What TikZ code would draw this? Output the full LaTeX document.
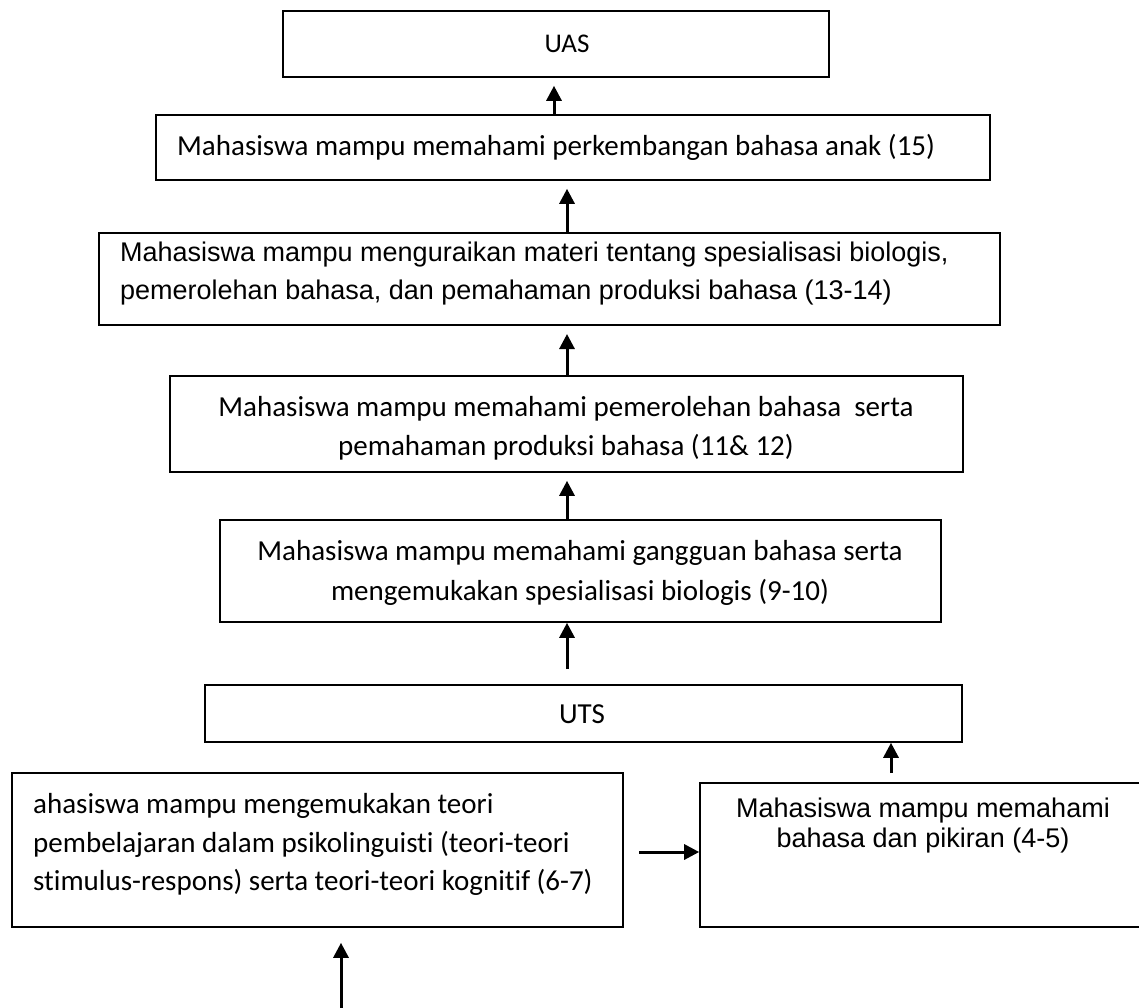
\documentclass[tikz,border=0pt]{standalone}
\usepackage{fontspec}
\setmainfont{Carlito}[Ligatures=NoCommon]
\newfontfamily\arialfont{Liberation Sans}[Ligatures=NoCommon]
\usetikzlibrary{arrows.meta}
\begin{document}
\begin{tikzpicture}[x=1pt,y=-1pt,
  box/.style={draw, line width=1.6pt, inner sep=0pt, rectangle},
  cal/.style={inner sep=0pt, font=\fontsize{29}{35}\selectfont},
  ari/.style={inner sep=0pt, font=\arialfont\fontsize{27}{31}\selectfont},
  arr/.style={line width=3pt, -{Triangle[length=15pt,width=15pt]}}
]
\useasboundingbox (0,0) rectangle (1139,1007);
\fill[white] (0,0) rectangle (1139,1007);

% boxes
\node[box, minimum width=546pt, minimum height=66pt] (uas) at (556,44) {};
\node[box, minimum width=834pt, minimum height=65pt] (b2) at (573,147.5) {};
\node[box, line width=2pt, minimum width=901pt, minimum height=92pt] (b3) at (549.5,279) {};
\node[box, minimum width=793pt, minimum height=96pt] (b4) at (566.5,424) {};
\node[box, minimum width=721pt, minimum height=102pt] (b5) at (580.5,571) {};
\node[box, minimum width=757pt, minimum height=57pt] (uts) at (583.5,713.5) {};
\node[box, minimum width=611pt, minimum height=154pt] (lb) at (317.5,850) {};
\node[box, minimum width=446pt, minimum height=144pt] (rb) at (923,855) {};

% texts
\node[cal, font=\fontsize{27}{32}\selectfont, anchor=base] (tuas) at (567,52) {UAS};
\node[cal, anchor=base west] (t2) at (177,155) {Mahasiswa mampu memahami perkembangan bahasa anak (15)};
\node[ari, anchor=base west] (t3a) at (120,261) {Mahasiswa mampu menguraikan materi tentang spesialisasi biologis,};
\node[ari, anchor=base west] (t3b) at (120,299) {pemerolehan bahasa, dan pemahaman produksi bahasa (13-14)};
\node[cal, anchor=base] (t4a) at (566,416) {Mahasiswa mampu memahami pemerolehan bahasa\ \ serta};
\node[cal, anchor=base] (t4b) at (566,455) {pemahaman produksi bahasa (11\& 12)};
\node[cal, anchor=base] (t5a) at (580,560) {Mahasiswa mampu memahami gangguan bahasa serta};
\node[cal, anchor=base] (t5b) at (580,600) {mengemukakan spesialisasi biologis (9-10)};
\node[cal, anchor=base] (tuts) at (582,723) {UTS};
\node[cal, anchor=base west] (tla) at (33,813) {ahasiswa mampu mengemukakan teori};
\node[cal, anchor=base west] (tlb) at (33,852) {pembelajaran dalam psikolinguisti (teori-teori};
\node[cal, anchor=base west] (tlc) at (33,890) {stimulus-respons) serta teori-teori kognitif (6-7)};
\node[ari, anchor=base] (tra) at (923,817) {Mahasiswa mampu memahami};
\node[ari, anchor=base] (trb) at (923,847) {bahasa dan pikiran (4-5)};

% arrow coordinates
\coordinate (ax1) at (554,0);
\coordinate (ax2) at (567,0);
\coordinate (s5) at (567,669);
\coordinate (s6) at (891,773);
\coordinate (s7) at (639,852);
\coordinate (s8) at (341,1015);

% connectors
\draw[arr, shorten >=8pt] (b2.north -| ax1) -- (uas.south -| ax1);
\draw[arr, shorten >=8pt] (b3.north -| ax2) -- (b2.south -| ax2);
\draw[arr, shorten >=8pt] (b4.north -| ax2) -- (b3.south -| ax2);
\draw[arr, shorten >=8pt] (b5.north -| ax2) -- (b4.south -| ax2);
\draw[arr] (s5) -- (b5.south -| s5);
\draw[arr] (s6) -- (uts.south -| s6);
\draw[arr] (s7) -- (rb.west |- s7);
\draw[arr, shorten >=15pt] (s8) -- (lb.south -| s8);
\end{tikzpicture}
\end{document}
